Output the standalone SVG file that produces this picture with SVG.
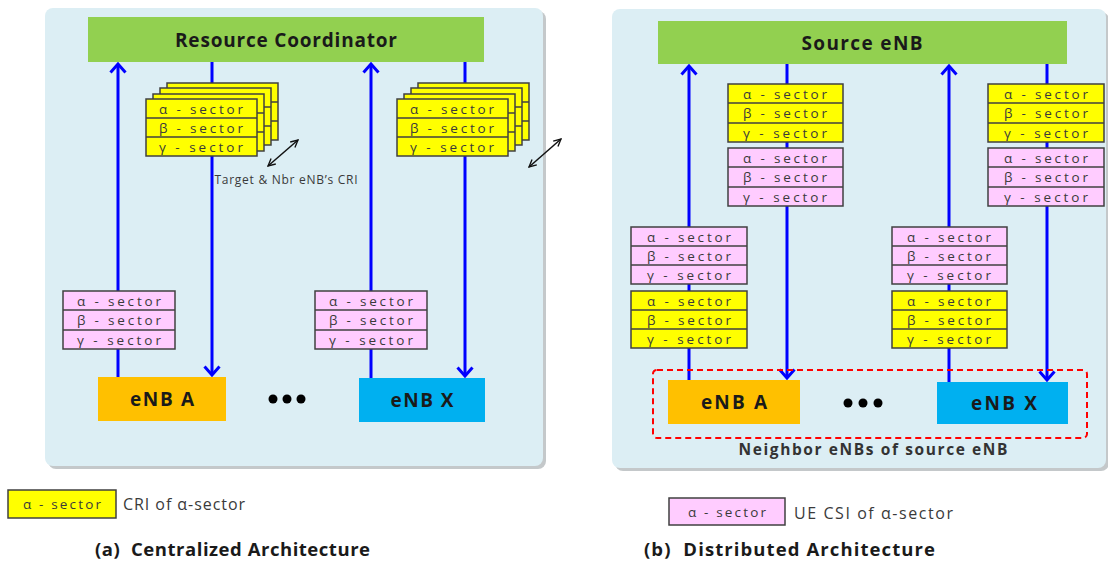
<svg xmlns="http://www.w3.org/2000/svg" width="1108" height="564" viewBox="0 0 1108 564">
<style>
.panel{fill:#DCEEF4}
.shadow{fill:#C4C8CA}
.coord{fill:#92D050}
.title{font-family:"Open Sans","Liberation Sans",sans-serif;font-weight:bold;fill:#1a1a1a;text-anchor:middle}
.sec{font-family:"Open Sans","Liberation Sans",sans-serif;font-size:13.5px;fill:#3a3a3a;text-anchor:middle}
.y{fill:#FFFF00;stroke:#404040;stroke-width:1.5}
.p{fill:#FFCCFF;stroke:#404040;stroke-width:1.5}
.div{stroke:#404040;stroke-width:1.5}
.blue{stroke:#0000FF;stroke-width:3;fill:none}
.dbl{stroke:#111;stroke-width:1.5;fill:none}
.lab{font-family:"Open Sans","Liberation Sans",sans-serif;fill:#3a3a3a}
.cap{font-family:"Open Sans","Liberation Sans",sans-serif;font-weight:bold;font-size:18.5px;fill:#1a1a1a;white-space:pre}
</style>
<defs>
<marker id="ah" viewBox="0 0 12 18" refX="10" refY="9" markerWidth="12" markerHeight="18" markerUnits="userSpaceOnUse" orient="auto">
<path d="M1.5,1.5 L10,9 L1.5,16.5" fill="none" stroke="#0000FF" stroke-width="3"/>
</marker>
<marker id="bh" viewBox="0 0 10 10" refX="9" refY="5" markerWidth="9" markerHeight="9" markerUnits="userSpaceOnUse" orient="auto-start-reverse">
<path d="M1,1 L9,5 L1,9" fill="none" stroke="#111" stroke-width="1.5"/>
</marker>
</defs>

<g id="panel-a">
<rect class="shadow" x="48" y="11" width="498" height="458" rx="8"/>
<rect class="panel" x="45" y="8" width="498" height="458" rx="8"/>
</g>
<g id="panel-b">
<rect class="shadow" x="615" y="12" width="494" height="459" rx="8"/>
<rect class="panel" x="612" y="9" width="494" height="459" rx="8"/>
</g>

<g id="connectors">
<line class="blue" x1="118" y1="377" x2="118" y2="64" marker-end="url(#ah)"/>
<line class="blue" x1="212" y1="62" x2="212" y2="375" marker-end="url(#ah)"/>
<line class="blue" x1="371" y1="378" x2="371" y2="64" marker-end="url(#ah)"/>
<line class="blue" x1="465" y1="62" x2="465" y2="376" marker-end="url(#ah)"/>
<line class="dbl" x1="268" y1="166" x2="298" y2="140" marker-start="url(#bh)" marker-end="url(#bh)"/>
<line class="dbl" x1="529" y1="167" x2="561" y2="139" marker-start="url(#bh)" marker-end="url(#bh)"/>
<line class="blue" x1="689" y1="380" x2="689" y2="66" marker-end="url(#ah)"/>
<line class="blue" x1="787" y1="64" x2="787" y2="378" marker-end="url(#ah)"/>
<line class="blue" x1="949" y1="382" x2="949" y2="66" marker-end="url(#ah)"/>
<line class="blue" x1="1047" y1="64" x2="1047" y2="380" marker-end="url(#ah)"/>
</g>

<g id="resource-coordinator">
<rect class="coord" x="88" y="17" width="396" height="45"/>
<text class="title" x="286" y="47" font-size="19" textLength="222" lengthAdjust="spacing">Resource Coordinator</text>
</g>

<g id="cri-stack-a">
<rect class="y" x="167" y="83" width="111" height="57"/><line class="div" x1="167" y1="102" x2="278" y2="102"/><line class="div" x1="167" y1="121" x2="278" y2="121"/>
<rect class="y" x="160" y="88" width="111" height="57"/><line class="div" x1="160" y1="107" x2="271" y2="107"/><line class="div" x1="160" y1="126" x2="271" y2="126"/>
<rect class="y" x="153" y="94" width="111" height="57"/><line class="div" x1="153" y1="113" x2="264" y2="113"/><line class="div" x1="153" y1="132" x2="264" y2="132"/>
<rect class="y" x="146" y="99" width="111" height="57"/><line class="div" x1="146" y1="118" x2="257" y2="118"/><line class="div" x1="146" y1="137" x2="257" y2="137"/>
<text class="sec" x="201" y="113.5" textLength="84" lengthAdjust="spacing">α - sector</text>
<text class="sec" x="201" y="132.5" textLength="84" lengthAdjust="spacing">β - sector</text>
<text class="sec" x="201" y="151.5" textLength="84" lengthAdjust="spacing">γ - sector</text>
</g>

<g id="cri-stack-x">
<rect class="y" x="418" y="83" width="111" height="57"/><line class="div" x1="418" y1="102" x2="529" y2="102"/><line class="div" x1="418" y1="121" x2="529" y2="121"/>
<rect class="y" x="411" y="88" width="111" height="57"/><line class="div" x1="411" y1="107" x2="522" y2="107"/><line class="div" x1="411" y1="126" x2="522" y2="126"/>
<rect class="y" x="404" y="94" width="111" height="57"/><line class="div" x1="404" y1="113" x2="515" y2="113"/><line class="div" x1="404" y1="132" x2="515" y2="132"/>
<rect class="y" x="397" y="99" width="111" height="57"/><line class="div" x1="397" y1="118" x2="508" y2="118"/><line class="div" x1="397" y1="137" x2="508" y2="137"/>
<text class="sec" x="452" y="113.5" textLength="84" lengthAdjust="spacing">α - sector</text>
<text class="sec" x="452" y="132.5" textLength="84" lengthAdjust="spacing">β - sector</text>
<text class="sec" x="452" y="151.5" textLength="84" lengthAdjust="spacing">γ - sector</text>
</g>

<g id="target-label">
<text class="lab" x="286" y="184" font-size="12" text-anchor="middle" textLength="143" lengthAdjust="spacing">Target &amp; Nbr eNB’s CRI</text>
</g>

<g id="csi-a">
<rect class="p" x="63" y="291" width="112" height="58"/><line class="div" x1="63" y1="310" x2="175" y2="310"/><line class="div" x1="63" y1="330" x2="175" y2="330"/>
<text class="sec" x="119" y="305.5" textLength="84" lengthAdjust="spacing">α - sector</text>
<text class="sec" x="119" y="325" textLength="84" lengthAdjust="spacing">β - sector</text>
<text class="sec" x="119" y="344.5" textLength="84" lengthAdjust="spacing">γ - sector</text>
</g>

<g id="csi-x">
<rect class="p" x="315" y="291" width="112" height="58"/><line class="div" x1="315" y1="310" x2="427" y2="310"/><line class="div" x1="315" y1="330" x2="427" y2="330"/>
<text class="sec" x="371" y="305.5" textLength="84" lengthAdjust="spacing">α - sector</text>
<text class="sec" x="371" y="325" textLength="84" lengthAdjust="spacing">β - sector</text>
<text class="sec" x="371" y="344.5" textLength="84" lengthAdjust="spacing">γ - sector</text>
</g>

<g id="enb-a-left">
<rect x="98" y="377" width="128" height="44" fill="#FFC000"/>
<text class="title" x="162" y="406" font-size="19" textLength="64" lengthAdjust="spacing">eNB A</text>
</g>
<g id="dots-left">
<circle cx="273" cy="399" r="4.5" fill="#000"/><circle cx="287" cy="399" r="4.5" fill="#000"/><circle cx="301" cy="399" r="4.5" fill="#000"/>
</g>
<g id="enb-x-left">
<rect x="359" y="378" width="126" height="44" fill="#00B0F0"/>
<text class="title" x="422" y="407" font-size="19" textLength="63" lengthAdjust="spacing">eNB X</text>
</g>

<g id="source-enb">
<rect class="coord" x="658" y="21" width="409" height="43"/>
<text class="title" x="862" y="50" font-size="19" textLength="121" lengthAdjust="spacing">Source eNB</text>
</g>

<g id="src-cri-a">
<rect class="y" x="728" y="84" width="115" height="58"/><line class="div" x1="728" y1="103" x2="843" y2="103"/><line class="div" x1="728" y1="123" x2="843" y2="123"/>
<text class="sec" x="785" y="98.5" textLength="84" lengthAdjust="spacing">α - sector</text>
<text class="sec" x="785" y="118" textLength="84" lengthAdjust="spacing">β - sector</text>
<text class="sec" x="785" y="137.5" textLength="84" lengthAdjust="spacing">γ - sector</text>
</g>
<g id="src-csi-a">
<rect class="p" x="728" y="148" width="115" height="58"/><line class="div" x1="728" y1="167" x2="843" y2="167"/><line class="div" x1="728" y1="187" x2="843" y2="187"/>
<text class="sec" x="785" y="162.5" textLength="84" lengthAdjust="spacing">α - sector</text>
<text class="sec" x="785" y="182" textLength="84" lengthAdjust="spacing">β - sector</text>
<text class="sec" x="785" y="201.5" textLength="84" lengthAdjust="spacing">γ - sector</text>
</g>
<g id="src-cri-x">
<rect class="y" x="988" y="84" width="116" height="58"/><line class="div" x1="988" y1="103" x2="1104" y2="103"/><line class="div" x1="988" y1="123" x2="1104" y2="123"/>
<text class="sec" x="1046" y="98.5" textLength="84" lengthAdjust="spacing">α - sector</text>
<text class="sec" x="1046" y="118" textLength="84" lengthAdjust="spacing">β - sector</text>
<text class="sec" x="1046" y="137.5" textLength="84" lengthAdjust="spacing">γ - sector</text>
</g>
<g id="src-csi-x">
<rect class="p" x="988" y="148" width="116" height="58"/><line class="div" x1="988" y1="167" x2="1104" y2="167"/><line class="div" x1="988" y1="187" x2="1104" y2="187"/>
<text class="sec" x="1046" y="162.5" textLength="84" lengthAdjust="spacing">α - sector</text>
<text class="sec" x="1046" y="182" textLength="84" lengthAdjust="spacing">β - sector</text>
<text class="sec" x="1046" y="201.5" textLength="84" lengthAdjust="spacing">γ - sector</text>
</g>

<g id="nbr-csi-a">
<rect class="p" x="631" y="227" width="116" height="57"/><line class="div" x1="631" y1="246" x2="747" y2="246"/><line class="div" x1="631" y1="265" x2="747" y2="265"/>
<text class="sec" x="689" y="241.5" textLength="84" lengthAdjust="spacing">α - sector</text>
<text class="sec" x="689" y="260.5" textLength="84" lengthAdjust="spacing">β - sector</text>
<text class="sec" x="689" y="279.5" textLength="84" lengthAdjust="spacing">γ - sector</text>
</g>
<g id="nbr-cri-a">
<rect class="y" x="631" y="291" width="116" height="57"/><line class="div" x1="631" y1="310" x2="747" y2="310"/><line class="div" x1="631" y1="329" x2="747" y2="329"/>
<text class="sec" x="689" y="305.5" textLength="84" lengthAdjust="spacing">α - sector</text>
<text class="sec" x="689" y="324.5" textLength="84" lengthAdjust="spacing">β - sector</text>
<text class="sec" x="689" y="343.5" textLength="84" lengthAdjust="spacing">γ - sector</text>
</g>
<g id="nbr-csi-x">
<rect class="p" x="892" y="227" width="115" height="57"/><line class="div" x1="892" y1="246" x2="1007" y2="246"/><line class="div" x1="892" y1="265" x2="1007" y2="265"/>
<text class="sec" x="949" y="241.5" textLength="84" lengthAdjust="spacing">α - sector</text>
<text class="sec" x="949" y="260.5" textLength="84" lengthAdjust="spacing">β - sector</text>
<text class="sec" x="949" y="279.5" textLength="84" lengthAdjust="spacing">γ - sector</text>
</g>
<g id="nbr-cri-x">
<rect class="y" x="892" y="291" width="115" height="57"/><line class="div" x1="892" y1="310" x2="1007" y2="310"/><line class="div" x1="892" y1="329" x2="1007" y2="329"/>
<text class="sec" x="949" y="305.5" textLength="84" lengthAdjust="spacing">α - sector</text>
<text class="sec" x="949" y="324.5" textLength="84" lengthAdjust="spacing">β - sector</text>
<text class="sec" x="949" y="343.5" textLength="84" lengthAdjust="spacing">γ - sector</text>
</g>

<g id="neighbor-group">
<rect x="653" y="370" width="434" height="68" rx="4" fill="none" stroke="#FF0000" stroke-width="2" stroke-dasharray="6,4"/>
<text class="title" x="873" y="455" font-size="15.5" textLength="269" lengthAdjust="spacing" style="fill:#333">Neighbor eNBs of source eNB</text>
</g>
<g id="enb-a-right">
<rect x="668" y="380" width="132" height="44" fill="#FFC000"/>
<text class="title" x="734" y="409" font-size="19" textLength="66" lengthAdjust="spacing">eNB A</text>
</g>
<g id="dots-right">
<circle cx="848" cy="403" r="4.5" fill="#000"/><circle cx="863" cy="403" r="4.5" fill="#000"/><circle cx="878" cy="403" r="4.5" fill="#000"/>
</g>
<g id="enb-x-right">
<rect x="937" y="382" width="131" height="42" fill="#00B0F0"/>
<text class="title" x="1004" y="410" font-size="19" textLength="66" lengthAdjust="spacing">eNB X</text>
</g>

<g id="legend-a">
<rect class="y" x="8" y="490" width="108" height="28"/>
<text class="sec" x="62" y="509" textLength="78" lengthAdjust="spacing">α - sector</text>
<text class="lab" x="123" y="510" font-size="16" textLength="122" lengthAdjust="spacing">CRI of α-sector</text>
</g>
<g id="legend-b">
<rect class="p" x="669" y="498" width="116" height="27"/>
<text class="sec" x="727" y="517" textLength="78" lengthAdjust="spacing">α - sector</text>
<text class="lab" x="794" y="519" font-size="16" textLength="159" lengthAdjust="spacing">UE CSI of α-sector</text>
</g>
<g id="caption-a">
<text class="cap" x="95" y="556" textLength="275" lengthAdjust="spacing" xml:space="preserve">(a)  Centralized Architecture</text>
</g>
<g id="caption-b">
<text class="cap" x="644" y="556" textLength="291" lengthAdjust="spacing" xml:space="preserve">(b)  Distributed Architecture</text>
</g>
</svg>
